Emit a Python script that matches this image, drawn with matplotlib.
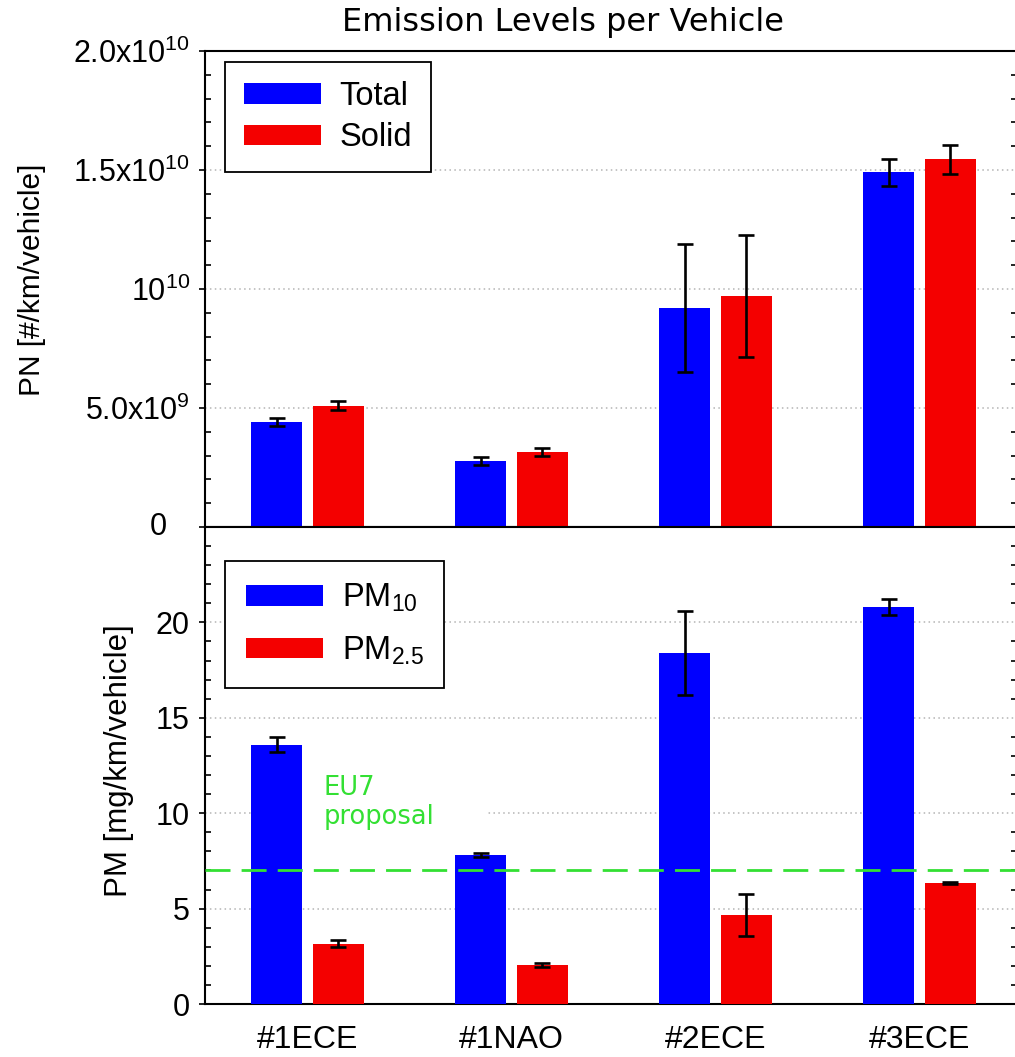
import numpy as np
import matplotlib
matplotlib.use("Agg")
import matplotlib.pyplot as plt
from matplotlib.ticker import FixedLocator, MultipleLocator
from matplotlib.patches import Rectangle
import matplotlib.transforms as mtransforms

plt.rcParams['font.family'] = ['Liberation Sans', 'DejaVu Sans']
plt.rcParams['mathtext.default'] = 'regular'

# ---- data ----
categories = ['#1ECE', '#1NAO', '#2ECE', '#3ECE']
pn_total = [4.40e9, 2.78e9, 9.20e9, 14.90e9]
pn_total_err = [0.17e9, 0.16e9, 2.70e9, 0.56e9]
pn_solid = [5.10e9, 3.15e9, 9.70e9, 15.45e9]
pn_solid_err = [0.20e9, 0.18e9, 2.55e9, 0.60e9]
pm10 = [13.6, 7.8, 18.4, 20.8]
pm10_err = [0.38, 0.12, 2.2, 0.42]
pm25 = [3.15, 2.05, 4.65, 6.33]
pm25_err = [0.18, 0.10, 1.10, 0.05]
eu7_limit = 7.0
pn_yticks = [0, 5e9, 1e10, 1.5e10, 2e10]
pn_yticklabels = ['', r'5.0x10$^{9}$', r'10$^{10}$', r'1.5x10$^{10}$', r'2.0x10$^{10}$']
pm_yticks = [0, 5, 10, 15, 20]

BLUE = '#0000ff'
RED = '#f40000'
GREEN = '#33e033'
FS = 22
LFS = 23.5

W, H = 1015, 1057
fig = plt.figure(figsize=(W / 100, H / 100), dpi=100)
left = 205 / W
width = (1017 - 205) / W
ax1 = fig.add_axes([left, 1 - 527 / H, width, 476 / H])
ax2 = fig.add_axes([left, 1 - 1004 / H, width, 477 / H])

x = np.arange(len(categories))
bw = 0.25
off = 0.15
ekw = dict(elinewidth=1.9, capthick=1.9, capsize=5.5, ecolor='black')

b1 = ax1.bar(x - off, pn_total, bw, color=BLUE, label='Total', zorder=3)
b2 = ax1.bar(x + off, pn_solid, bw, color=RED, label='Solid', zorder=3)
ax1.errorbar(x - off, pn_total, yerr=pn_total_err, fmt='none', zorder=4, **ekw)
ax1.errorbar(x + off, pn_solid, yerr=pn_solid_err, fmt='none', zorder=4, **ekw)

c1 = ax2.bar(x - off, pm10, bw, color=BLUE, label=r'PM$_{10}$', zorder=3)
c2 = ax2.bar(x + off, pm25, bw, color=RED, label=r'PM$_{2.5}$', zorder=3)
ax2.errorbar(x - off, pm10, yerr=pm10_err, fmt='none', zorder=4, **ekw)
ax2.errorbar(x + off, pm25, yerr=pm25_err, fmt='none', zorder=4, **ekw)
ax2.axhline(eu7_limit, color=GREEN, lw=2.0, dashes=(9, 4), zorder=5)

xlim = (-0.502, 3.478)
for ax in (ax1, ax2):
    ax.set_xlim(*xlim)
    for s in ax.spines.values():
        s.set_linewidth(1.5)
    ax.set_axisbelow(True)
    ax.grid(axis='y', which='major', color='#b4b4b4', lw=1.1, linestyle=(0, (1, 2.2)))
    ax.tick_params(axis='y', which='major', direction='out', length=4.5, width=1.2,
                   labelsize=FS, pad=6.5, right=True, labelright=False)
    ax.tick_params(axis='y', which='minor', direction='in', length=4, width=1.2,
                   right=True, labelright=False)

ax1.set_ylim(0, 2e10)
ax1.yaxis.set_major_locator(FixedLocator(pn_yticks))
ax1.set_yticklabels(pn_yticklabels)
ax1.yaxis.set_minor_locator(MultipleLocator(1e9))
ax1.set_xticks([])
ax1.text(-0.047, 0, '0', transform=mtransforms.blended_transform_factory(ax1.transAxes, ax1.transData),
         ha='right', va='center', fontsize=FS)

ax2.set_ylim(0, 25)
ax2.yaxis.set_major_locator(FixedLocator(pm_yticks))
ax2.yaxis.set_minor_locator(MultipleLocator(1))
ax2.set_xticks(x)
ax2.set_xticklabels(categories)
ax2.tick_params(axis='x', length=0, labelsize=23, pad=15)

ax1.set_ylabel('PN [#/km/vehicle]', fontsize=21.5)
ax1.yaxis.set_label_coords(-0.196, 0.52)
ax2.set_ylabel('PM [mg/km/vehicle]', fontsize=22.5)
ax2.yaxis.set_label_coords(-0.087, 0.51)

leg_kw = dict(loc='upper left', fontsize=LFS, frameon=True, fancybox=False, framealpha=1,
              edgecolor='black', handlelength=2.35, handleheight=0.58, handletextpad=0.58,
              borderaxespad=0)
l1 = ax1.legend(handles=[b1, b2], bbox_to_anchor=(20 / 812, 1 - 11 / 476),
                labelspacing=0.32, borderpad=0.58, **leg_kw)
l1.get_frame().set_linewidth(1.3)
l1.set_zorder(6)
l2 = ax2.legend(handles=[c1, c2], bbox_to_anchor=(20 / 812, 1 - 34 / 477),
                labelspacing=0.62, borderpad=0.64, **leg_kw)
l2.get_frame().set_linewidth(1.3)
l2.set_zorder(6)

# white background behind the EU7 annotation
ax2.add_patch(Rectangle((-0.03, 8.8), 0.91, 2.9, facecolor='white', edgecolor='none', zorder=1))
ax2.text(0.081, 12.0, 'EU7\nproposal', color=GREEN, fontsize=18.5, family='DejaVu Sans',
         ha='left', va='top', linespacing=1.15, zorder=6)

fig.text(563 / W, 1 - 22 / H, 'Emission Levels per Vehicle', ha='center', va='center',
         fontsize=23, family='DejaVu Sans')

fig.savefig('out.png', dpi=100)
